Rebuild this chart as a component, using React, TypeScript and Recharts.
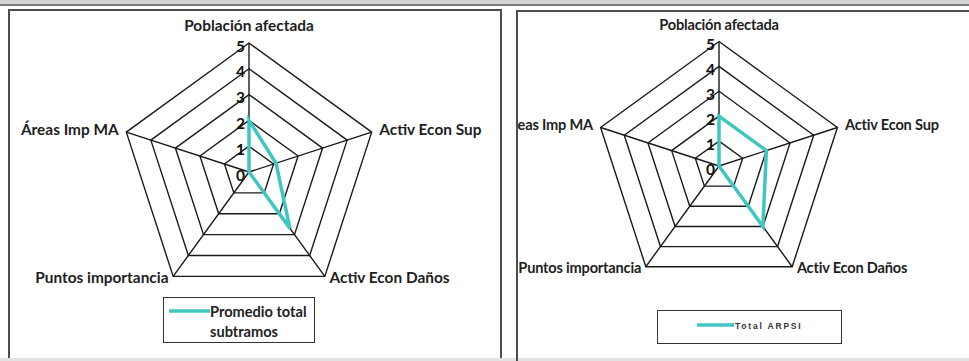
import React from "react";
import { RadarChart, Radar, PolarGrid, PolarAngleAxis, PolarRadiusAxis, Legend } from "recharts";

const categories = ["Población afectada", "Activ Econ Sup", "Activ Econ Daños", "Puntos importancia", "Áreas Imp MA"];
const promedioTotalSubtramos = [2, 1.1, 2.7, 0, 0];
const totalArpsi = [2, 2, 3, 0, 0];
const radiusTicks = [0, 1, 2, 3, 4, 5];

const leftData = categories.map((c, i) => ({ cat: c, v: promedioTotalSubtramos[i] }));
const rightData = categories.map((c, i) => ({ cat: c, v: totalArpsi[i] }));

const TEAL = "#3fc7bf";
const LABEL_FONT = "Lato, 'Noto Sans', sans-serif";

function makeAngleTick(cy: number, r: number, fontSize: number, letterSpacing: number) {
  return (props: any) => {
    const { x, y, payload, textAnchor } = props;
    let dy = 0;
    if (y < cy - r * 0.9) dy = -4;
    else if (y < cy) dy = 5;
    else dy = 0;
    return (
      <text
        x={x}
        y={y + dy}
        textAnchor={textAnchor}
        fontFamily={LABEL_FONT}
        fontWeight={700}
        fontSize={fontSize}
        letterSpacing={letterSpacing}
        fill="#1e1e1e"
      >
        {payload.value}
      </text>
    );
  };
}

const RadiusTick = (props: any) => {
  const { x, y, payload } = props;
  return (
    <text x={x - 4} y={y + 2.5} textAnchor="end" dominantBaseline="central" fontFamily={LABEL_FONT} fontWeight={700} fontSize={15.5} fill="#111">
      {payload.value}
    </text>
  );
};

const LeftLegend = () => (
  <div style={{ width: 152, height: 46, border: "1.5px solid #333", boxSizing: "border-box", position: "relative", background: "#fff" }}>
    <svg width={44} height={10} style={{ position: "absolute", left: 4, top: 8 }}>
      <line x1={1} y1={5} x2={42} y2={5} stroke={TEAL} strokeWidth={3.5} />
    </svg>
    <div style={{ position: "absolute", left: 46, top: 4, fontFamily: LABEL_FONT, fontWeight: 700, fontSize: 14.6, lineHeight: "20px", color: "#222" }}>
      Promedio total
      <br />
      subtramos
    </div>
  </div>
);

const RightLegend = () => (
  <div style={{ width: 185, height: 34, border: "1.5px solid #333", boxSizing: "border-box", position: "relative", background: "#fff" }}>
    <svg width={40} height={10} style={{ position: "absolute", left: 38, top: 9 }}>
      <line x1={1} y1={5} x2={38} y2={5} stroke={TEAL} strokeWidth={3.5} />
    </svg>
    <div style={{ position: "absolute", left: 77, top: 9, fontFamily: "'Liberation Sans', Arial, sans-serif", fontWeight: 700, fontSize: 8.5, letterSpacing: 1.8, color: "#333", lineHeight: "12px" }}>
      Total ARPSI
    </div>
  </div>
);

export default function App() {
  const L = { cx: 249, cy: 172, r: 129 };
  const R = { left: 517, cx: 202, cy: 166, r: 124.5 };
  return (
    <div style={{ position: "absolute", left: 0, top: 0, width: 969, height: 361, background: "#fff", overflow: "hidden" }}>
      {/* top strip */}
      <div style={{ position: "absolute", left: 0, top: 0, width: 969, height: 4, background: "#d4d4d4" }} />
      <div style={{ position: "absolute", left: 0, top: 4, width: 969, height: 2, background: "#7a7a7a" }} />
      {/* left panel */}
      <div style={{ position: "absolute", left: 8, top: 9, width: 494, height: 360, border: "2px solid #4d4d4d", boxSizing: "border-box" }} />
      {/* right panel */}
      <div style={{ position: "absolute", left: 516, top: 10, width: 470, height: 360, border: "2px solid #4d4d4d", boxSizing: "border-box" }} />
      {/* bottom light line */}
      <div style={{ position: "absolute", left: 0, top: 358, width: 969, height: 3, background: "#e2e2e2" }} />

      <div style={{ position: "absolute", left: 0, top: 0 }}>
        <RadarChart width={500} height={361} data={leftData} cx={L.cx} cy={L.cy} outerRadius={L.r} margin={{ top: 0, right: 0, bottom: 0, left: 0 }}>
          <PolarGrid gridType="polygon" stroke="#1a1a1a" strokeWidth={1.4} />
          <PolarAngleAxis dataKey="cat" tick={makeAngleTick(L.cy, L.r, 15.4, 0)} tickLine={false} axisLine={false} />
          <PolarRadiusAxis angle={90} domain={[0, 5]} ticks={radiusTicks as any} tickCount={6} tick={RadiusTick} axisLine={false} tickLine={false} />
          <Radar name="Promedio total subtramos" dataKey="v" stroke={TEAL} strokeWidth={3.5} fill="none" fillOpacity={0} dot={false} isAnimationActive={false} />
          <Legend content={<LeftLegend />} wrapperStyle={{ position: "absolute", left: 163, top: 297, width: 152, height: 46 }} />
        </RadarChart>
      </div>

      <div style={{ position: "absolute", left: R.left, top: 0 }}>
        <RadarChart width={452} height={361} data={rightData} cx={R.cx} cy={R.cy} outerRadius={R.r} margin={{ top: 0, right: 0, bottom: 0, left: 0 }}>
          <PolarGrid gridType="polygon" stroke="#1a1a1a" strokeWidth={1.4} />
          <PolarAngleAxis dataKey="cat" tick={makeAngleTick(R.cy, R.r, 14.6, -0.2)} tickLine={false} axisLine={false} />
          <PolarRadiusAxis angle={90} domain={[0, 5]} ticks={radiusTicks as any} tickCount={6} tick={RadiusTick} axisLine={false} tickLine={false} />
          <Radar name="Total ARPSI" dataKey="v" stroke={TEAL} strokeWidth={3.5} fill="none" fillOpacity={0} dot={false} isAnimationActive={false} />
          <Legend content={<RightLegend />} wrapperStyle={{ position: "absolute", left: 657 - R.left, top: 310, width: 185, height: 34 }} />
        </RadarChart>
      </div>
      {/* right panel left border drawn on top so clipped label sits under it */}
      <div style={{ position: "absolute", left: 516, top: 10, width: 2, height: 351, background: "#4d4d4d" }} />
    </div>
  );
}
